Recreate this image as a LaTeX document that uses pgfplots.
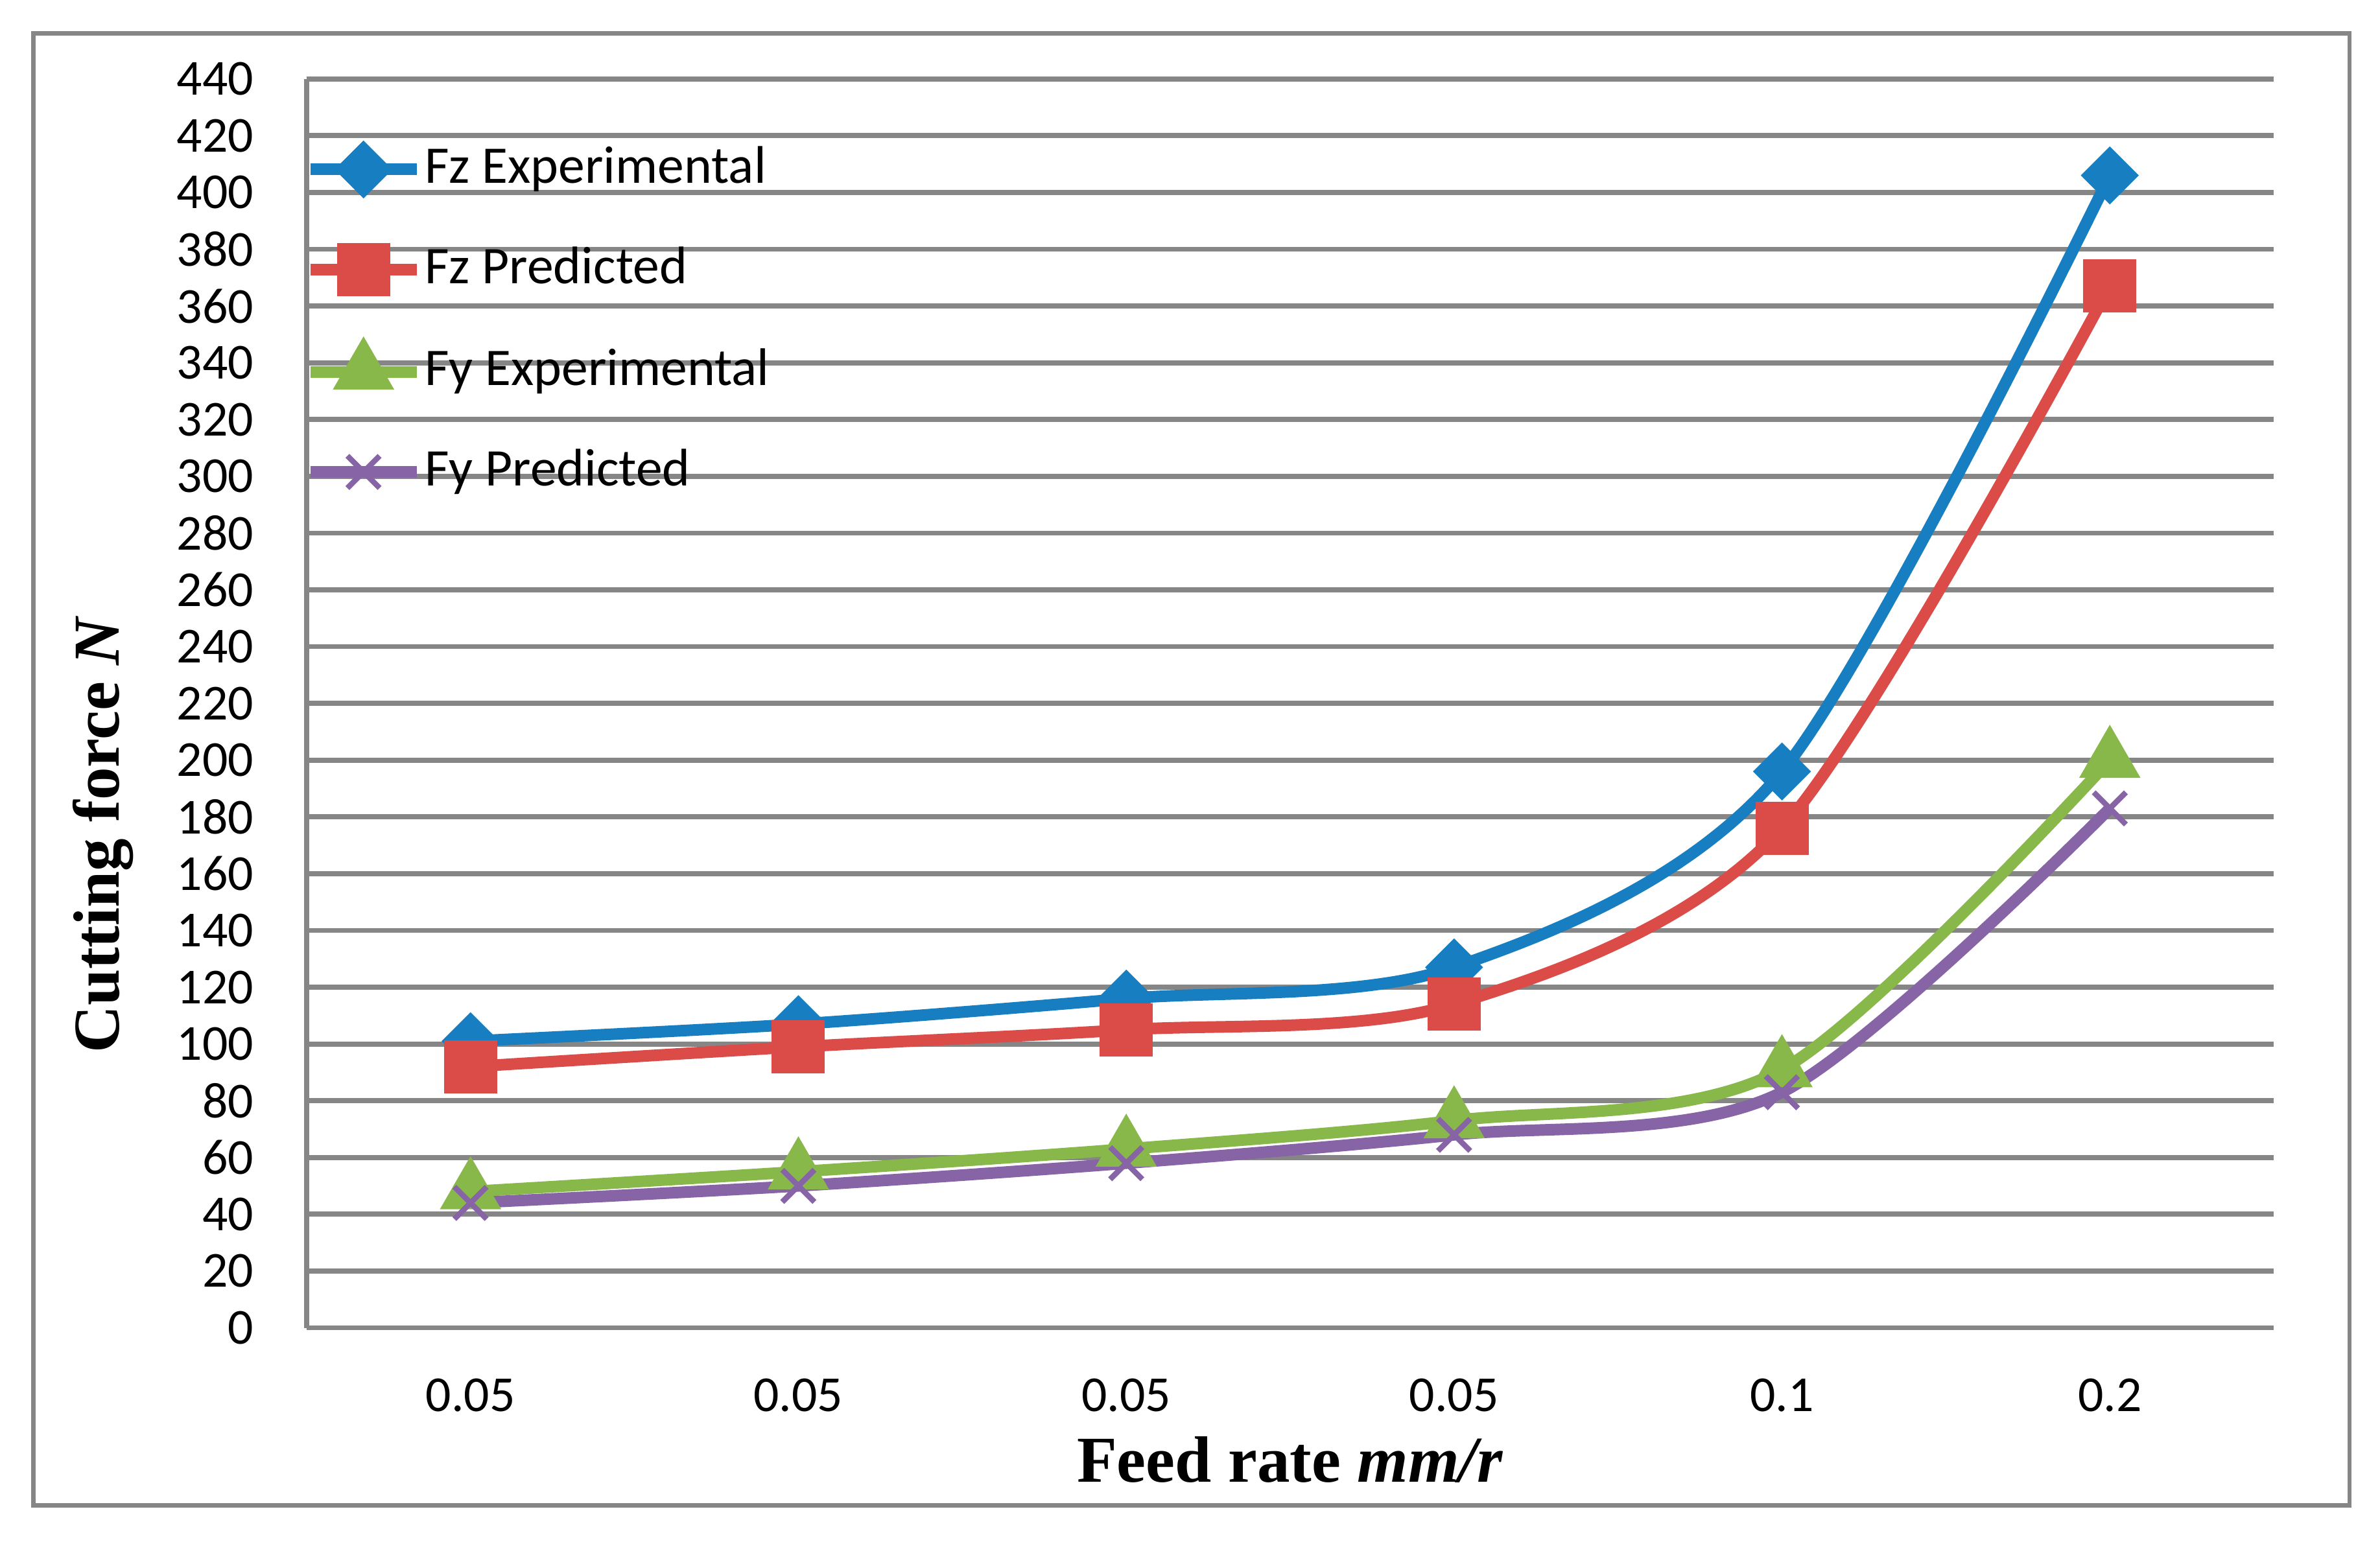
\documentclass[border=0pt]{standalone}
\usepackage{pgfplots}
\pgfplotsset{compat=1.18}
\usepackage{fontspec}
\setmainfont{Carlito}
\newfontfamily\timesf{Liberation Serif}

\definecolor{gridgray}{RGB}{134,134,134}
\definecolor{cblue}{RGB}{23,127,193}
\definecolor{cred}{RGB}{219,75,72}
\definecolor{cgreen}{RGB}{137,184,74}
\definecolor{cpurple}{RGB}{134,100,166}

\begin{document}
\begin{tikzpicture}
\begin{axis}[
  width=388.8bp, height=246.9bp, scale only axis,
  xmin=-0.5, xmax=5.5, ymin=0, ymax=440,
  xtick={0,...,5},
  xticklabels={0.05,0.05,0.05,0.05,0.1,0.2},
  ytick={0,20,...,440},
  ymajorgrids=true,
  grid style={draw=gridgray, line width=1bp},
  axis x line*=bottom, axis y line*=left,
  axis line style={draw=gridgray, line width=1bp, -},
  major tick length=0pt,
  tick label style={font=\fontsize{10}{12}\selectfont},
  /pgf/number format/assume math mode=true,
  yticklabel style={xshift=-7bp},
  xticklabel style={yshift=-6.6bp},
  xlabel={\timesf\bfseries Feed rate \textit{mm/r}},
  ylabel={\timesf\bfseries Cutting force \textit{N}},
  label style={font=\fontsize{13}{15}\selectfont},
  xlabel style={at={(axis description cs:0.5,-0.1057)}, anchor=center},
  ylabel style={at={(axis description cs:-0.1034,0.395)}, anchor=center},
  legend cell align=left,
  legend style={at={(axis description cs:0,1)}, anchor=north west,
    yshift=-13.4bp, xshift=-0.6bp, draw=none, fill=none,
    inner sep=0pt, row sep=11.2bp, column sep=0.5bp,
    font=\fontsize{10.5}{12}\selectfont,
    nodes={inner sep=0pt, text height=7bp, text depth=1.6bp}},
  legend image code/.code={
    \draw[mark repeat=2, mark phase=2]
      plot coordinates {(0bp,0bp) (10.5bp,0bp) (21bp,0bp)};},
  every axis plot/.append style={line width=2.3bp, smooth},
]
\addplot[cblue, mark=square*, mark options={solid, rotate=45, mark size=2.9bp}]
  coordinates {(0,101) (1,107) (2,116) (3,127) (4,196) (5,406)};
\addlegendentry{Fz Experimental}
\addplot[cred, mark=square*, mark options={solid, mark size=4.1bp}]
  coordinates {(0,92) (1,99) (2,105) (3,114) (4,176) (5,367)};
\addlegendentry{Fz Predicted}
\addplot[cgreen, mark=triangle*, mark options={solid, mark size=4.7bp}]
  coordinates {(0,48) (1,55) (2,63) (3,73) (4,91) (5,200)};
\addlegendentry{Fy Experimental}
\addplot[cpurple, mark=x, mark options={solid, mark size=4.5bp, line width=1.1bp}]
  coordinates {(0,44) (1,50) (2,58) (3,68) (4,83) (5,183)};
\addlegendentry{Fy Predicted}
\end{axis}
\draw[gridgray, line width=0.8bp] (-54bp,-35.1bp) rectangle (403.8bp,255.9bp);
\path (-60.6bp,-42.3bp) rectangle (409.8bp,262.5bp);
\end{tikzpicture}
\end{document}
